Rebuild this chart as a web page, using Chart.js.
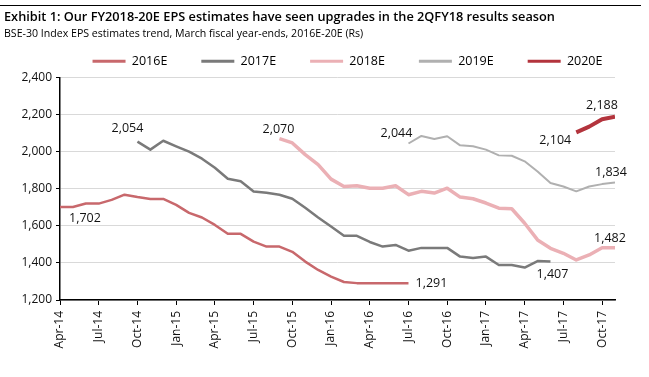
<!DOCTYPE html>
<html>
<head>
<meta charset="utf-8">
<script src="https://cdn.jsdelivr.net/npm/chart.js@4.4.1/dist/chart.umd.min.js"></script>
<style>
  body { margin: 0; background: #fff; font-family: "Open Sans", sans-serif; }
  #wrap { position: relative; width: 649px; height: 377px; overflow: hidden; }
  #rule { position: absolute; left: 0; top: 5px; width: 641px; border-top: 1px solid #000; }
  #title { position: absolute; left: 4px; top: 7px; font-size: 12.75px; font-weight: 600; color: #000; white-space: nowrap; }
  #sub { position: absolute; left: 4px; top: 26px; font-size: 10.6px; color: #000; white-space: nowrap; }
  #chartBox { position: absolute; left: 0; top: 0; width: 649px; height: 377px; }
</style>
</head>
<body>
<div id="wrap">
  <div id="chartBox"><canvas id="canvas"></canvas></div>
  <div id="rule"></div>
  <div id="title">Exhibit 1: Our FY2018-20E EPS estimates have seen upgrades in the 2QFY18 results season</div>
  <div id="sub">BSE-30 Index EPS estimates trend, March fiscal year-ends, 2016E-20E (Rs)</div>
</div>
<script>
// months Apr-14 .. Nov-17
let months = ["Apr-14","May-14","Jun-14","Jul-14","Aug-14","Sep-14","Oct-14","Nov-14","Dec-14",
  "Jan-15","Feb-15","Mar-15","Apr-15","May-15","Jun-15","Jul-15","Aug-15","Sep-15","Oct-15","Nov-15","Dec-15",
  "Jan-16","Feb-16","Mar-16","Apr-16","May-16","Jun-16","Jul-16","Aug-16","Sep-16","Oct-16","Nov-16","Dec-16",
  "Jan-17","Feb-17","Mar-17","Apr-17","May-17","Jun-17","Jul-17","Aug-17","Sep-17","Oct-17","Nov-17"];

let seriesNames = ["2016E", "2017E", "2018E", "2019E", "2020E"];
// first month (index into months) of each series
let startIdx = [0, 6, 17, 27, 40];

let eps2016 = [1702,1702,1720,1720,1740,1768,1755,1745,1745,1713,1670,1645,1605,1557,1557,1515,1488,1488,1460,1407,1362,1326,1297,1291,1291,1291,1291,1291];
let eps2017 = [2054,2011,2059,2029,2000,1962,1913,1854,1840,1785,1778,1768,1746,1697,1645,1596,1546,1546,1513,1488,1497,1466,1481,1481,1481,1434,1427,1434,1389,1389,1375,1410,1407];
let eps2018 = [2070,2047,1984,1930,1852,1812,1816,1803,1803,1816,1768,1786,1777,1803,1755,1746,1723,1695,1692,1614,1524,1479,1452,1416,1443,1482,1482];
let eps2019 = [2044,2085,2068,2083,2034,2029,2011,1980,1978,1948,1893,1831,1812,1786,1812,1825,1834];
let eps2020 = [2104,2135,2175,2188];

let yTicks = [1200, 1400, 1600, 1800, 2000, 2200, 2400];

let colors = ['#c8686c', '#7a7a7a', '#ebb0b5', '#b0b0b0', '#b3343d'];
let widths = [2.5, 2.5, 3.5, 2, 4];

let allSeries = [eps2016, eps2017, eps2018, eps2019, eps2020];

// labels: [series, point, dx, dy]
let callouts = [
  [0, 0, 25, 12],
  [1, 0, -10, -13],
  [2, 0, -1, -9],
  [3, 0, -12, -10],
  [4, 0, -21, 8],
  [4, 3, -13, -11],
  [3, 16, -4, -10],
  [2, 26, -5, -9],
  [1, 32, 2, 13],
  [0, 27, 23, 0]
];

function fmt(v) {
  return v.toLocaleString('en-US');
}

let datasets = allSeries.map((arr, s) => ({
  label: seriesNames[s],
  data: arr.map((v, k) => ({ x: startIdx[s] + k, y: v })),
  borderColor: colors[s],
  backgroundColor: colors[s],
  borderWidth: widths[s],
  pointRadius: 0,
  tension: 0,
  borderJoinStyle: 'round'
}));

const calloutPlugin = {
  id: 'callouts',
  afterLayout(chart) {
    // legend sits a bit right of centre in the original
    chart.legend.left += 40;
    chart.legend.right += 40;
  },
  afterDatasetsDraw(chart) {
    let ctx = chart.ctx;
    ctx.save();
    ctx.font = '12.5px "Open Sans"';
    ctx.fillStyle = '#111';
    ctx.textAlign = 'center';
    ctx.textBaseline = 'middle';
    callouts.forEach(c => {
      let meta = chart.getDatasetMeta(c[0]);
      let pt = meta.data[c[1]];
      let v = allSeries[c[0]][c[1]];
      ctx.fillText(fmt(v), pt.x + c[2], pt.y + c[3]);
    });
    ctx.restore();
  }
};

let ctx = document.getElementById('canvas').getContext('2d');
let myChart = new Chart(ctx, {
  type: 'line',
  data: { datasets: datasets },
  plugins: [calloutPlugin],
  options: {
    responsive: true,
    maintainAspectRatio: false,
    animation: false,
    layout: { padding: { top: 21, left: 0, right: 34, bottom: 0 } },
    plugins: {
      legend: {
        display: true,
        position: 'top',
        labels: {
          font: { family: 'Open Sans', size: 12.5 },
          color: '#111',
          boxWidth: 33,
          boxHeight: 3,
          padding: 34,
          generateLabels(chart) {
            return chart.data.datasets.map((d, i) => ({
              text: d.label,
              fillStyle: d.borderColor,
              strokeStyle: d.borderColor,
              lineWidth: 0,
              datasetIndex: i
            }));
          }
        }
      },
      tooltip: { enabled: false }
    },
    scales: {
      x: {
        type: 'linear',
        min: 0,
        max: months.length - 1,
        afterBuildTicks(scale) {
          let t = [];
          for (let i = 0; i < months.length; i += 3) t.push({ value: i });
          scale.ticks = t;
        },
        afterFit(scale) { scale.height = 77; },
        ticks: {
          autoSkip: false,
          maxRotation: 90,
          minRotation: 90,
          padding: 6,
          font: { family: 'Open Sans', size: 12 },
          color: '#111',
          callback: v => months[v]
        },
        grid: { drawOnChartArea: false, tickLength: 5, color: '#000' },
        border: { color: '#000', width: 1.5 }
      },
      y: {
        min: 1200,
        max: 2400,
        afterBuildTicks(scale) {
          scale.ticks = yTicks.map(v => ({ value: v }));
        },
        afterFit(scale) { scale.width = 60; },
        ticks: {
          font: { family: 'Open Sans', size: 12 },
          color: '#111',
          padding: 4,
          callback: v => fmt(v)
        },
        grid: { color: '#d9d9d9', lineWidth: 1, tickLength: 4, tickColor: '#000' },
        border: { color: '#000', width: 1.5 }
      }
    }
  }
});
</script>
</body>
</html>
